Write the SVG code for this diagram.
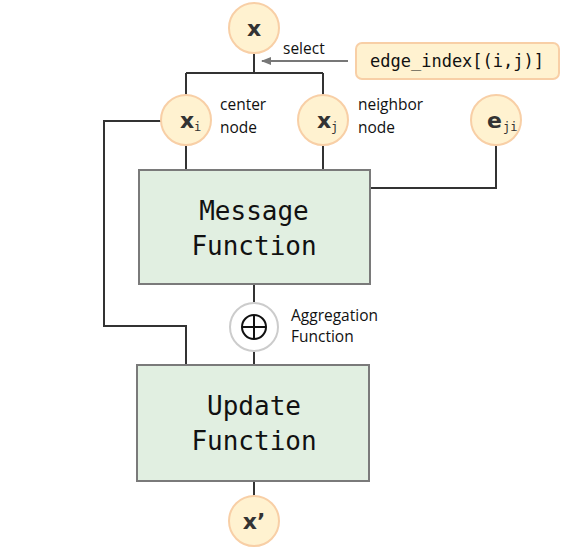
<svg xmlns="http://www.w3.org/2000/svg" width="561" height="556" viewBox="0 0 561 556">
<defs>
<style>
.node{fill:#fff2d0;stroke:#f8cfa6;stroke-width:2}
.fn{fill:#e1efe1;stroke:#7a7a7a;stroke-width:2}
.edge{fill:none;stroke:#333;stroke-width:2}
.var{font-family:"DejaVu Sans",sans-serif;font-weight:bold;font-size:22px;fill:#333}
.sub{font-family:"DejaVu Sans Mono",monospace;font-size:12px;fill:#333}
.mono{font-family:"DejaVu Sans Mono","Liberation Mono",monospace;font-size:26px;fill:#111}
.lbl{font-family:"Open Sans","Noto Sans",sans-serif;font-size:15.5px;fill:#111}
</style>
<marker id="ah" viewBox="0 0 10 10" refX="9" refY="5" markerWidth="10" markerHeight="10" markerUnits="userSpaceOnUse" orient="auto">
<path d="M0,1 L10,5 L0,9 z" fill="#777"/>
</marker>
</defs>
<rect width="561" height="556" fill="#fff"/>
<g id="connectors">
<path class="edge" d="M254,52 V73 M186,73 H323 M186,95 V73 M323,95 V73"/>
<path class="edge" d="M186,145 V170 M323,145 V170"/>
<path class="edge" d="M496,145 V188 H370"/>
<path class="edge" d="M161,121 H104 V326 H186 V365"/>
<path class="edge" d="M254,284 V302 M254,352 V365 M254,481 V496"/>
<path d="M348,61 H262" fill="none" stroke="#777" stroke-width="2" marker-end="url(#ah)"/>
<text class="lbl" x="283" y="54">select</text>
</g>
<g id="x">
<circle class="node" cx="254" cy="28" r="25"/>
<text class="var" x="254" y="36" text-anchor="middle">x</text>
</g>
<g id="edge_index">
<rect x="356" y="43" width="203" height="36" rx="6" fill="#fff2d0" stroke="#f8cfa6" stroke-width="2"/>
<text x="457" y="67" text-anchor="middle" font-family="DejaVu Sans Mono,monospace" font-size="17" fill="#111">edge_index[(i,j)]</text>
</g>
<g id="xi">
<circle class="node" cx="186" cy="120" r="25"/>
<text class="var" x="180" y="128">x</text>
<text class="sub" x="194" y="131">i</text>
<text class="lbl" x="220" y="110">center</text>
<text class="lbl" x="220" y="133">node</text>
</g>
<g id="xj">
<circle class="node" cx="323" cy="120" r="25"/>
<text class="var" x="317" y="128">x</text>
<text class="sub" x="331" y="131">j</text>
<text class="lbl" x="358" y="110">neighbor</text>
<text class="lbl" x="358" y="133">node</text>
</g>
<g id="eji">
<circle class="node" cx="496" cy="120" r="25"/>
<text class="var" x="487" y="128">e</text>
<text class="sub" x="503" y="131">ji</text>
</g>
<g id="message">
<rect class="fn" x="139" y="170" width="231" height="114"/>
<text class="mono" x="254" y="220" text-anchor="middle">Message</text>
<text class="mono" x="254" y="255" text-anchor="middle">Function</text>
</g>
<g id="aggregation">
<circle cx="254" cy="327" r="24" fill="#fff" stroke="#ccc" stroke-width="2"/>
<circle cx="254" cy="327" r="12" fill="none" stroke="#111" stroke-width="2"/>
<path d="M242,327 H266 M254,315 V339" stroke="#111" stroke-width="2"/>
<text class="lbl" x="291" y="321">Aggregation</text>
<text class="lbl" x="291" y="342">Function</text>
</g>
<g id="update">
<rect class="fn" x="137" y="365" width="232" height="116"/>
<text class="mono" x="254" y="415" text-anchor="middle">Update</text>
<text class="mono" x="254" y="450" text-anchor="middle">Function</text>
</g>
<g id="xprime">
<circle class="node" cx="254" cy="521" r="25"/>
<text class="var" x="254" y="529" text-anchor="middle">x’</text>
</g>
</svg>
